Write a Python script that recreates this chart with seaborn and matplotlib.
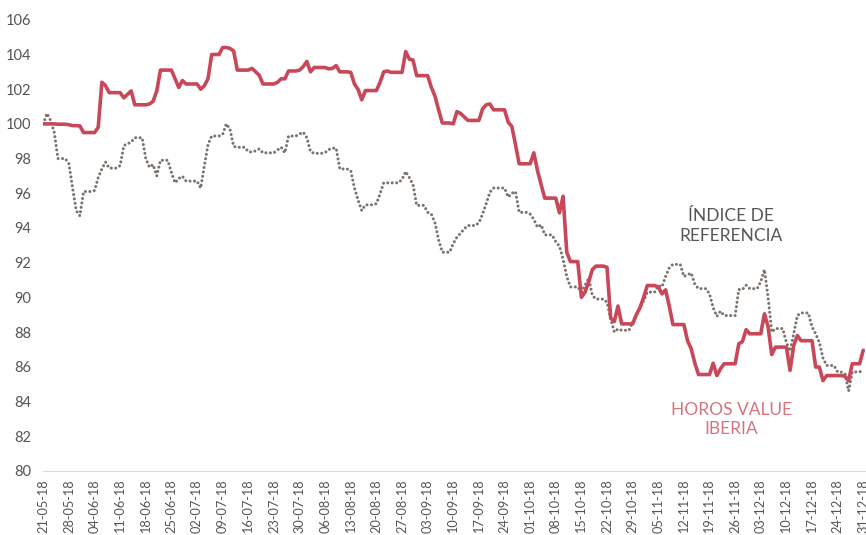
import matplotlib
matplotlib.use("Agg")
import matplotlib.pyplot as plt
import matplotlib.dates as mdates
import seaborn as sns
import pandas as pd

# business-day values, 21-05-2018 .. 31-12-2018 (one row of five per week)
horos = [
    100.0, 100.0, 100.0, 100.0, 99.98,
    99.95, 99.9, 99.9, 99.88, 99.5,
    99.5, 99.8, 102.4, 102.2, 101.8,
    101.8, 101.5, 101.7, 101.9, 101.1,
    101.1, 101.15, 101.3, 101.9, 103.1,
    103.1, 102.6, 102.1, 102.5, 102.3,
    102.3, 102.0, 102.2, 102.6, 104.0,
    104.4, 104.4, 104.35, 104.2, 103.1,
    103.1, 103.2, 103.0, 102.8, 102.3,
    102.3, 102.4, 102.6, 102.6, 103.05,
    103.1, 103.3, 103.6, 103.0, 103.25,
    103.25, 103.17, 103.2, 103.36, 103.0,
    102.97, 102.3, 101.98, 101.39, 101.92,
    101.92, 102.4, 103.0, 103.05, 102.97,
    102.97, 104.17, 103.73, 103.68, 102.78,
    102.78, 102.11, 101.6, 100.8, 100.05,
    100.0, 100.71, 100.6, 100.4, 100.2,
    100.2, 100.86, 101.1, 101.15, 100.81,
    100.81, 100.1, 99.85, 98.8, 97.7,
    97.7, 98.33, 97.31, 96.5, 95.72,
    95.72, 94.87, 95.83, 92.6, 92.06,
    90.0, 90.3, 90.9, 91.6, 91.8,
    91.73, 88.8, 88.6, 89.5, 88.47,
    88.47, 89.0, 89.4, 90.0, 90.68,
    90.6, 90.2, 90.43, 89.5, 88.43,
    88.43, 87.5, 87.03, 86.2, 85.55,
    85.55, 86.2, 85.49, 85.88, 86.17,
    86.17, 87.32, 87.45, 88.14, 87.9,
    87.9, 89.05, 88.3, 86.7, 87.13,
    87.13, 85.79, 87.22, 87.8, 87.5,
    87.5, 85.98, 85.98, 85.2, 85.49,
    85.49, 85.49, 85.45, 85.2, 86.17,
    86.95,
]

indice = [
    100.0, 100.6, 100.2, 99.5, 98.0,
    97.7, 96.3, 95.0, 94.7, 96.1,
    96.16, 96.9, 97.4, 97.8, 97.45,
    97.6, 98.75, 98.85, 98.95, 99.2,
    98.0, 97.5, 97.65, 97.0, 97.9,
    97.2, 96.6, 96.85, 96.98, 96.7,
    96.7, 96.3, 97.6, 98.8, 99.3,
    99.4, 100.0, 99.7, 98.7, 98.65,
    98.4, 98.37, 98.45, 98.56, 98.33,
    98.33, 98.5, 98.65, 98.33, 99.3,
    99.42, 99.52, 99.2, 98.4, 98.3,
    98.35, 98.52, 98.6, 98.6, 97.4,
    97.3, 96.3, 95.6, 95.0, 95.33,
    95.4, 95.97, 96.6, 96.6, 96.6,
    96.8, 97.25, 96.9, 96.5, 95.3,
    94.9, 94.8, 94.3, 93.3, 92.6,
    93.1, 93.47, 93.7, 93.95, 94.14,
    94.3, 94.8, 95.4, 96.06, 96.3,
    96.3, 95.78, 96.0, 96.1, 94.9,
    94.8, 94.5, 94.04, 94.18, 93.6,
    93.2, 92.95, 92.2, 91.2, 90.6,
    90.3, 90.7, 91.1, 90.1, 89.9,
    89.72, 88.76, 88.0, 88.18, 88.1,
    88.57, 89.0, 89.4, 89.8, 90.3,
    90.68, 90.6, 91.2, 91.7, 91.9,
    91.2, 91.3, 91.4, 90.75, 90.5,
    90.2, 89.4, 88.9, 89.2, 88.95,
    88.95, 90.45, 90.45, 90.7, 90.5,
    90.9, 91.6, 90.0, 88.0, 88.2,
    87.4, 86.9, 87.9, 88.95, 89.1,
    88.3, 87.9, 87.4, 86.5, 86.07,
    85.7, 85.69, 85.6, 84.6, 85.7,
    85.8,
]

y_ticks = list(range(80, 107, 2))

RED = "#c84759"
GREY = "#7b736d"

days = pd.bdate_range("2018-05-21", "2018-12-31")
df = pd.DataFrame({"horos": horos, "indice": indice}, index=days)
# weekends carry the Friday value
df = df.resample("D").ffill()
df.index.name = "fecha"
df = df.reset_index()

sns.set_style("white")
plt.rcParams["font.family"] = ["Lato", "DejaVu Sans"]

fig = plt.figure(figsize=(8.66, 5.35), dpi=100)
ax = fig.add_axes([0.05, 0.12, 0.95, 0.843])

sns.lineplot(data=df, x="fecha", y="indice", ax=ax, color=GREY,
             linewidth=2.2, linestyle=(0, (0.01, 1.45)), dash_capstyle="round")
sns.lineplot(data=df, x="fecha", y="horos", ax=ax, color=RED, linewidth=2.6)

ax.set_ylim(80, 106)
ax.set_yticks(y_ticks)
ax.set_xlim(pd.Timestamp("2018-05-21"), pd.Timestamp("2018-12-31 18:00"))
ax.xaxis.set_major_locator(mdates.WeekdayLocator(byweekday=mdates.MO))
ax.xaxis.set_major_formatter(mdates.DateFormatter("%d-%m-%y"))
ax.set_xlabel("")
ax.set_ylabel("")

for side in ["top", "right", "left"]:
    ax.spines[side].set_visible(False)
ax.spines["bottom"].set_color("#d9d9d9")
ax.spines["bottom"].set_linewidth(0.8)

ax.tick_params(axis="x", direction="in", length=4, color="#d9d9d9",
               labelrotation=90, labelsize=9.2, labelcolor="#555555", pad=6)
ax.tick_params(axis="y", length=0, labelsize=10.5, labelcolor="#555555", pad=9)
for lab in ax.get_xticklabels():
    lab.set_verticalalignment("top")

ax.text(0.836, 0.543, "ÍNDICE DE\nREFERENCIA", transform=ax.transAxes,
        ha="center", va="center", fontsize=12.5, color="#555555", linespacing=1.25)
ax.text(0.836, 0.113, "HOROS VALUE\nIBERIA", transform=ax.transAxes,
        ha="center", va="center", fontsize=12.5, color="#d5737f", linespacing=1.25)

fig.savefig("out.png", dpi=100)
